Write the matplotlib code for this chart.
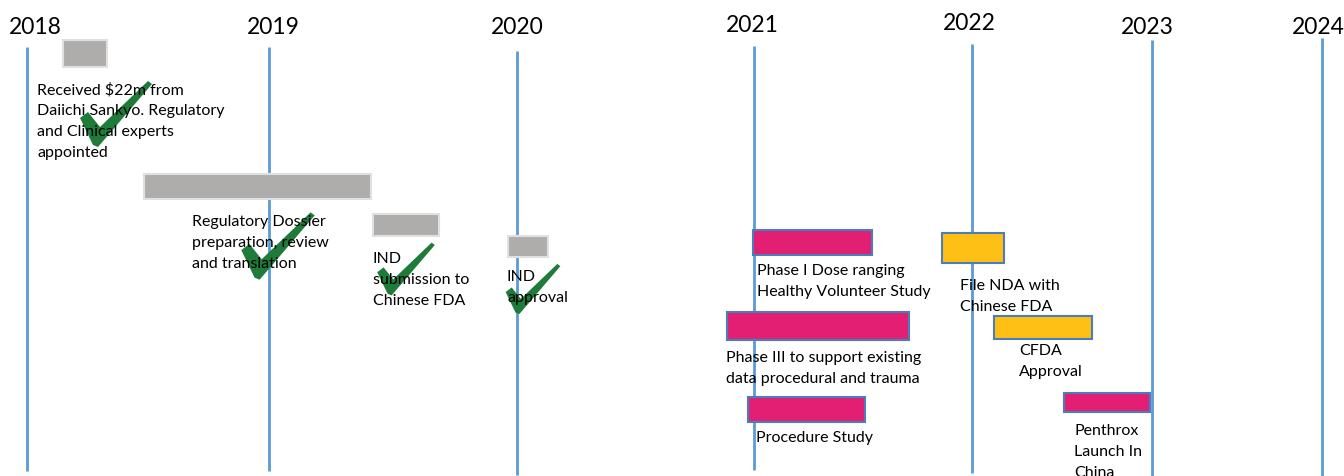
import matplotlib.pyplot as plt
from matplotlib.patches import Polygon

# timeline: x runs in the chart's own position units (years are unevenly spaced)
years = ['2018', '2019', '2020', '2021', '2022', '2023', '2024']
year_x = [27, 269, 517, 754, 972, 1152, 1322]
year_line_top = [48, 48, 52, 47, 45, 41, 39]
year_line_bottom = [472, 472, 476, 471, 474, 477, 477]
year_label_x = [35, 273, 517, 752, 969, 1147, 1318]
year_label_y = [27, 27, 28, 25, 24, 28, 27]

# milestones / activities
task_start = [63, 144, 373, 508, 753, 942, 727, 994, 748, 1064]
task_end = [107, 371, 439, 548, 872, 1004, 909, 1092, 865, 1150]
task_top = [41, 175, 215, 237, 231, 234, 313, 317, 398, 394]
task_bottom = [68, 200, 237, 258, 256, 264, 341, 340, 423, 413]
task_kind = ['done', 'done', 'done', 'done', 'trial', 'filing', 'trial', 'filing', 'trial', 'trial']

labels = [
    'Received $22m from\nDaiichi Sankyo. Regulatory\nand Clinical experts\nappointed',
    'Regulatory Dossier\npreparation, review\nand translation',
    'IND\nsubmission to\nChinese FDA',
    'IND\napproval',
    'Phase I Dose ranging\nHealthy Volunteer Study',
    'File NDA with\nChinese FDA',
    'Phase III to support existing\ndata procedural and trauma',
    'CFDA\nApproval',
    'Procedure Study',
    'Penthrox\nLaunch In\nChina',
]
label_x = [37, 192, 373, 507, 757, 960, 726, 1019, 756, 1074]
label_y = [90, 222, 259, 277, 271, 286, 358, 351, 438, 431]

# completed items get a tick
check_x = [116, 278, 406, 533]
check_y = [115, 247, 270, 290]
check_scale = [1.0, 1.02, 0.8, 0.76]

colors = {'done': '#AEADAB', 'trial': '#E31F74', 'filing': '#FEC015'}
edges = {'done': '#E0E0E0', 'trial': '#4A7EBB', 'filing': '#4A7EBB'}

# brush-like tick outline, relative to its centre
tick_shape = [(-36, 4), (-28, -2), (-16, 13), (32, -33), (36, -30),
              (-18, 33), (-23, 31)]

fig = plt.figure(figsize=(13.44, 4.77), dpi=100)
ax = fig.add_axes([0, 0, 1, 1])
ax.set_xlim(0, 1344)
ax.set_ylim(477, 0)
ax.axis('off')

# year lines
ax.vlines(year_x, year_line_top, year_line_bottom, color='#5B9BD5', lw=2, zorder=1)
for yr, x, y in zip(years, year_label_x, year_label_y):
    ax.text(x, y, yr, ha='center', va='center', fontsize=16.5, family='Lato', color='black')

# bars
for s, e, t, b, k in zip(task_start, task_end, task_top, task_bottom, task_kind):
    ax.barh((t + b) / 2, e - s, left=s, height=b - t, color=colors[k],
            edgecolor=edges[k], lw=1.5, zorder=3)

# ticks
for x, y, sc in zip(check_x, check_y, check_scale):
    pts = [(x + dx * sc, y + dy * sc) for dx, dy in tick_shape]
    ax.add_patch(Polygon(pts, closed=True, facecolor='#1E7B3A', edgecolor='none', zorder=4))

# labels
for txt, x, y in zip(labels, label_x, label_y):
    ax.text(x, y - 7, txt, ha='left', va='top', fontsize=11.5, family='Lato',
            linespacing=1.62, color='black', zorder=5)

fig.savefig('out.png', dpi=100)
